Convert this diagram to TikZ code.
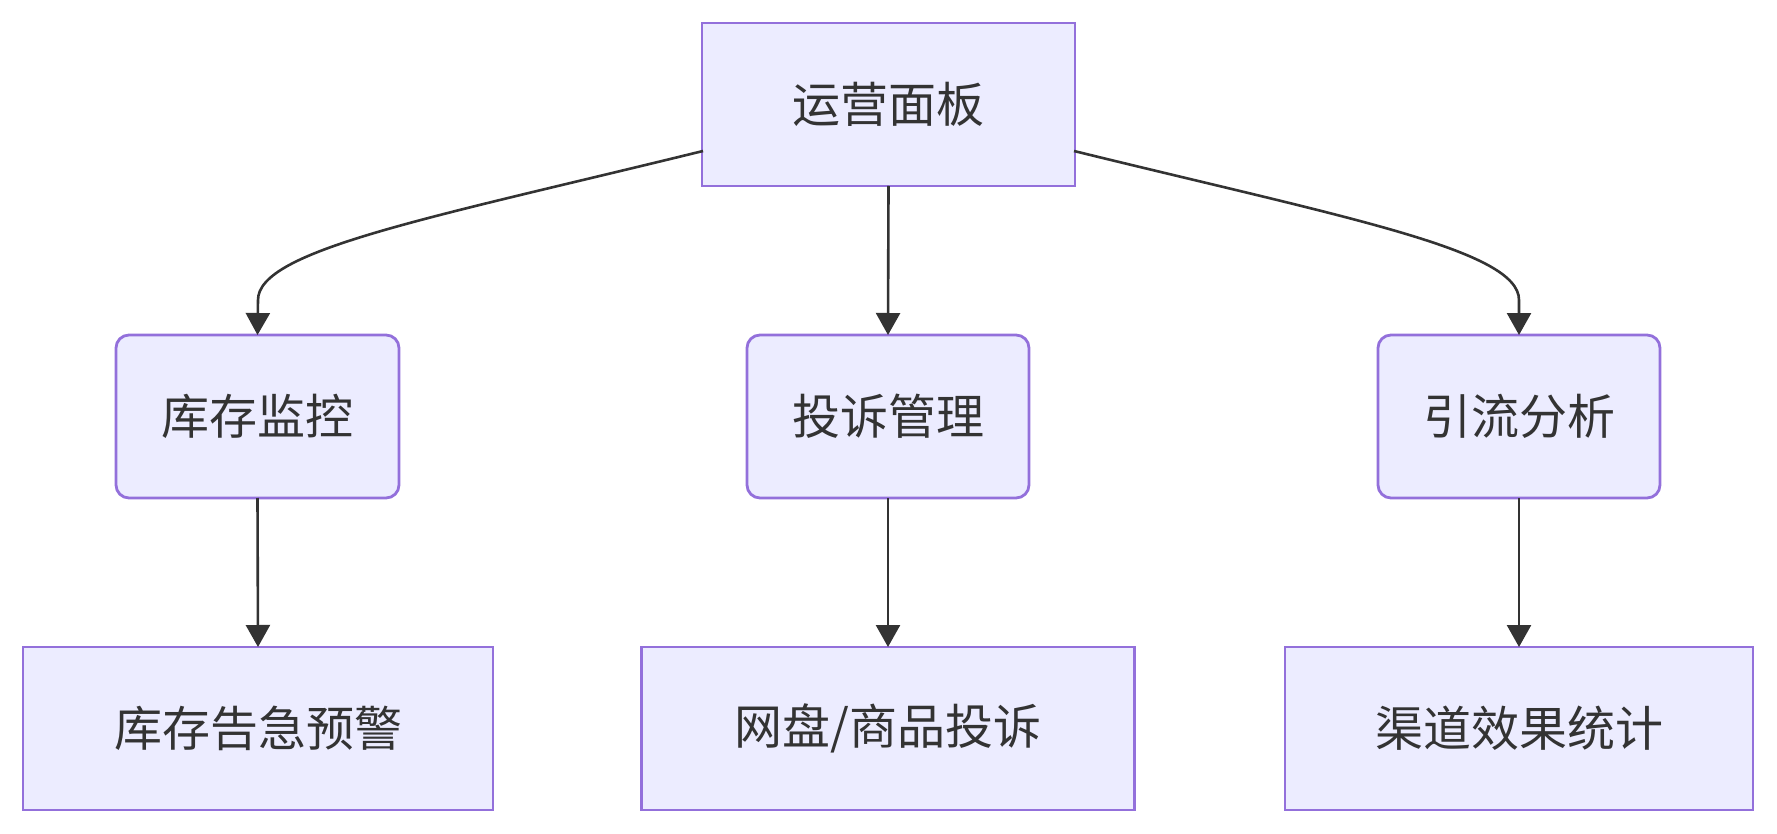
\documentclass[tikz,border=0pt]{standalone}
\usepackage{fontspec}
\setmainfont{Noto Sans CJK SC}
\usetikzlibrary{arrows.meta}
\definecolor{nodefill}{HTML}{ECECFF}
\definecolor{nodeline}{HTML}{9370DB}
\definecolor{txt}{HTML}{333333}
\begin{document}
\begin{tikzpicture}[x=0.5pt,y=-0.5pt,
  box/.style={draw=nodeline, fill=nodefill, line width=1.4pt, text=txt,
    font=\fontsize{24pt}{28pt}\selectfont, inner sep=0pt, outer sep=0pt,
    minimum height=81.5pt},
  rbox/.style={box, rounded corners=6.5pt},
  conn/.style={draw=txt, line width=1.3pt, -{Triangle[length=11pt,width=12pt]}}]
\useasboundingbox (0,0) rectangle (1777,834);
\node[box, minimum width=186.5pt] (top) at (888.5,104.5) {运营面板};
\node[rbox, minimum width=141.5pt] (m1) at (257.5,416.5) {库存监控};
\node[rbox, minimum width=141pt] (m2) at (888,416.5) {投诉管理};
\node[rbox, minimum width=141pt] (m3) at (1519,416.5) {引流分析};
\node[box, minimum width=235pt] (b1) at (258,728.5) {库存告急预警};
\node[box, minimum width=246.5pt] (b2) at (888,728.5) {网盘/商品投诉};
\node[box, minimum width=234pt] (b3) at (1519,728.5) {渠道效果统计};
\coordinate (s1) at (703,151);
\coordinate (s3) at (1074,151);
\draw[conn] (s1) .. controls (430,218) and (258,250) .. (258,300) -- (m1.north);
\draw[conn] (s3) .. controls (1347,218) and (1519,250) .. (1519,300) -- (m3.north);
\draw[conn] (top.south) -- (m2.north);
\draw[conn] (m1.south) -- (b1.north);
\draw[conn] (m2.south) -- (b2.north);
\draw[conn] (m3.south) -- (b3.north);
\end{tikzpicture}
\end{document}
